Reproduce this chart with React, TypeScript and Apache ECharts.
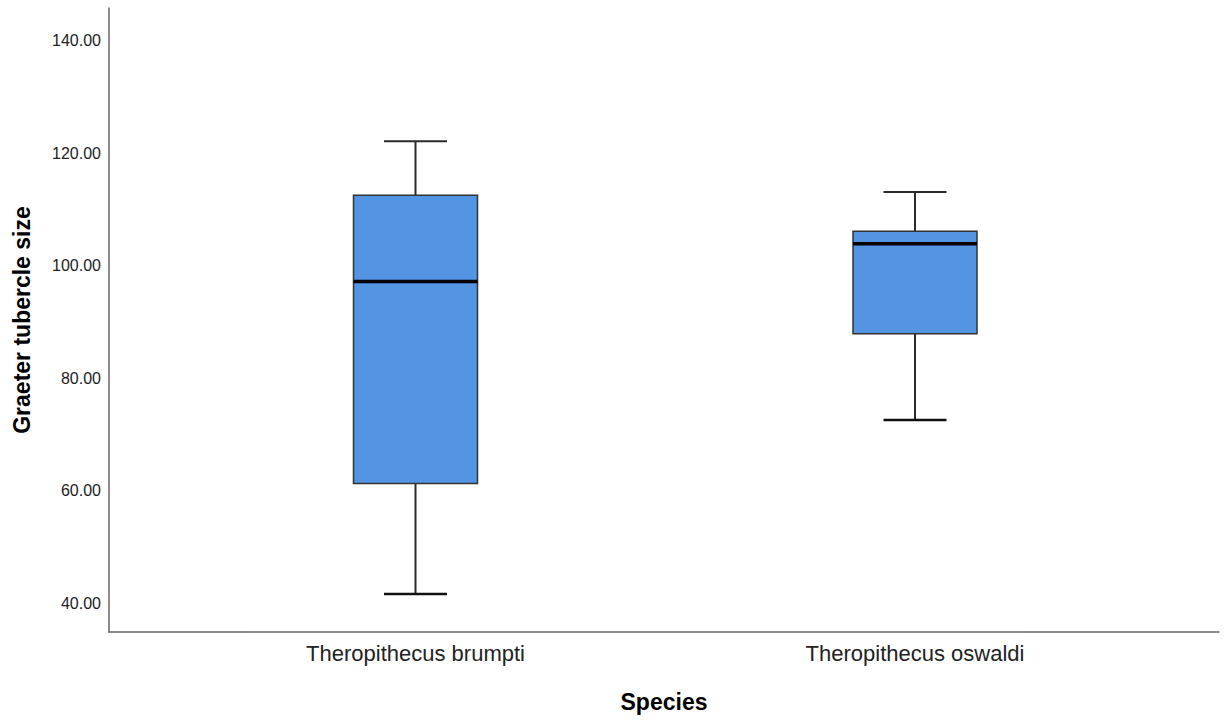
import React, { useEffect, useRef } from "react";
import * as echarts from "echarts";

const categories = ["Theropithecus brumpti", "Theropithecus oswaldi"];
const whiskerLow = [41.7, 72.6];
const q1 = [61.3, 87.9];
const median = [97.2, 103.9];
const q3 = [112.5, 106.1];
const whiskerHigh = [122.1, 113.1];
const yTicks = [40, 60, 80, 100, 120, 140];

const FONT = "'Liberation Sans', Arial, sans-serif";

export default function App() {
  const ref = useRef<HTMLDivElement>(null);
  useEffect(() => {
    document.body.style.margin = "0";
    if (!ref.current) return;
    const chart = echarts.init(ref.current, undefined, { renderer: "svg" });
    const data = categories.map((_, i) => [i, whiskerLow[i], q1[i], median[i], q3[i], whiskerHigh[i]]);
    chart.setOption({
      animation: false,
      backgroundColor: "#ffffff",
      grid: { left: 109, right: 11, top: 8, bottom: 91, containLabel: false },
      xAxis: {
        type: "value",
        min: -0.6136,
        max: 1.6086,
        name: "Species",
        nameLocation: "middle",
        nameGap: 58,
        nameTextStyle: { fontSize: 23, fontWeight: "bold", color: "#000", fontFamily: FONT },
        axisLine: { show: true, onZero: false, lineStyle: { color: "#666", width: 1.5 } },
        axisTick: { show: false },
        splitLine: { show: false },
        axisLabel: {
          customValues: [0, 1],
          formatter: (v: number) => categories[Math.round(v)] ?? "",
          fontSize: 22,
          color: "#222",
          margin: 10,
          fontFamily: FONT,
        },
      },
      yAxis: {
        type: "value",
        min: 34.94,
        max: 145.77,
        name: "Graeter tubercle size",
        nameLocation: "middle",
        nameGap: 76,
        nameTextStyle: { fontSize: 23, fontWeight: "bold", color: "#000", fontFamily: FONT },
        axisLine: { show: true, onZero: false, lineStyle: { color: "#666", width: 1.5 } },
        axisTick: { show: false },
        splitLine: { show: false },
        axisLabel: {
          customValues: yTicks,
          formatter: (v: number) => v.toFixed(2),
          fontSize: 16,
          color: "#222",
          margin: 8,
          fontFamily: FONT,
        },
      },
      series: [
        {
          type: "custom",
          data,
          encode: { x: 0, y: [1, 2, 3, 4, 5] },
          renderItem: (params: any, api: any) => {
            const x = api.value(0);
            const pLo = api.coord([x, api.value(1)]);
            const pQ1 = api.coord([x, api.value(2)]);
            const pMed = api.coord([x, api.value(3)]);
            const pQ3 = api.coord([x, api.value(4)]);
            const pHi = api.coord([x, api.value(5)]);
            const cx = pLo[0];
            const hw = 62;
            const cw = 31.5;
            const ws = { stroke: "#2b2b2b", lineWidth: 2 };
            return {
              type: "group",
              children: [
                { type: "line", shape: { x1: cx, y1: pHi[1], x2: cx, y2: pQ3[1] }, style: ws },
                { type: "line", shape: { x1: cx, y1: pQ1[1], x2: cx, y2: pLo[1] }, style: ws },
                { type: "line", shape: { x1: cx - cw, y1: pHi[1], x2: cx + cw, y2: pHi[1] }, style: ws },
                { type: "line", shape: { x1: cx - cw, y1: pLo[1], x2: cx + cw, y2: pLo[1] }, style: { stroke: "#111", lineWidth: 2.5 } },
                {
                  type: "rect",
                  shape: { x: cx - hw, y: pQ3[1], width: 2 * hw, height: pQ1[1] - pQ3[1] },
                  style: { fill: "#5394e3", stroke: "#333", lineWidth: 1.5 },
                },
                { type: "line", shape: { x1: cx - hw, y1: pMed[1], x2: cx + hw, y2: pMed[1] }, style: { stroke: "#000", lineWidth: 3.5 } },
              ],
            };
          },
        },
      ],
    });
    return () => chart.dispose();
  }, []);
  return <div ref={ref} style={{ width: 1230, height: 723 }} />;
}
